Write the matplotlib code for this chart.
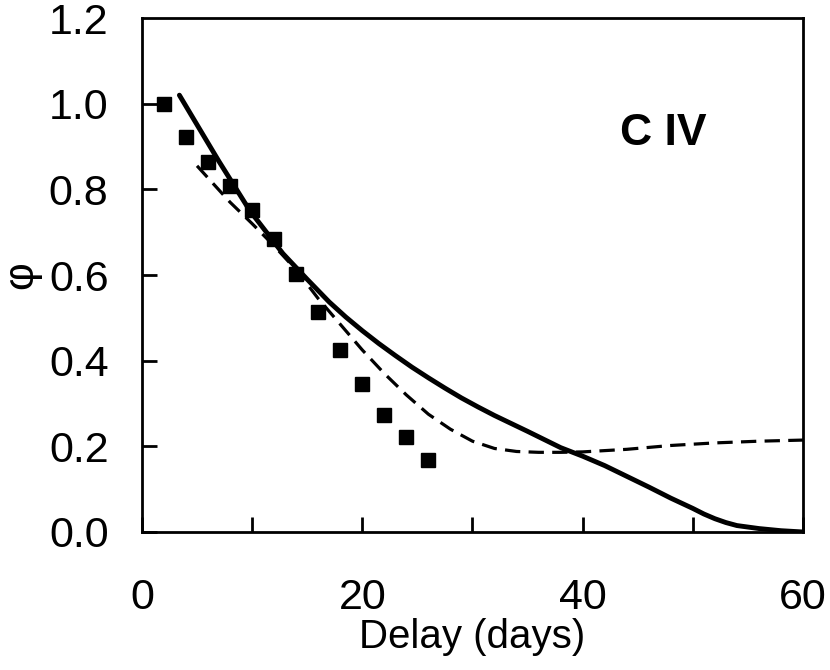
import numpy as np
import matplotlib
matplotlib.use("Agg")
import matplotlib.pyplot as plt
from matplotlib.ticker import MultipleLocator

plt.rcParams['font.family'] = ['Liberation Sans', 'DejaVu Sans']

# observed points
obs_delay = [2, 4, 6, 8, 10, 12, 14, 16, 18, 20, 22, 24, 26]
obs_phi = [1.0, 0.922, 0.864, 0.809, 0.751, 0.685, 0.603, 0.513, 0.425, 0.345, 0.273, 0.221, 0.168]

# model 1 (solid)
solid_delay = [3.4, 5, 7, 9.8, 12.8, 15, 17, 18.5, 20, 21.5, 23, 24.5, 26, 27.5, 29, 30.5, 32, 35, 38, 40,
               42, 44, 46, 48, 50, 51, 52, 53, 54, 56, 58, 60]
solid_phi = [1.02, 0.951, 0.865, 0.75, 0.65, 0.59, 0.537, 0.502, 0.47, 0.44, 0.412, 0.385, 0.36, 0.336,
             0.313, 0.292, 0.272, 0.235, 0.197, 0.177, 0.155, 0.13, 0.105, 0.079, 0.055, 0.042, 0.031,
             0.022, 0.015, 0.008, 0.003, 0.0]

# model 2 (dashed)
dash_delay = [5, 8, 10, 12, 14, 16, 18, 20, 22, 24, 26, 28, 30, 32, 34, 36, 38, 40, 44, 48, 52, 56, 60.6]
dash_phi = [0.855, 0.77, 0.72, 0.668, 0.612, 0.545, 0.485, 0.425, 0.37, 0.32, 0.275, 0.24, 0.212, 0.195,
            0.188, 0.186, 0.186, 0.187, 0.193, 0.202, 0.208, 0.212, 0.215]

fig = plt.figure(figsize=(8.3, 6.7), dpi=100)
ax = fig.add_axes([0.171, 0.206, 0.7965, 0.767])

ax.plot(solid_delay, solid_phi, color='black', lw=3.5, solid_capstyle='round',
        solid_joinstyle='round', zorder=3)
ax.plot(dash_delay, dash_phi, color='black', lw=2.3, dashes=(4.8, 2.6), clip_on=False, zorder=3)
ax.plot(obs_delay, obs_phi, 's', color='black', ms=10, zorder=4)

ax.set_xlim(0, 60)
ax.set_ylim(0, 1.2)
ax.xaxis.set_major_locator(MultipleLocator(20))
ax.xaxis.set_minor_locator(MultipleLocator(10))
ax.set_yticks([0.0, 0.2, 0.4, 0.6, 0.8, 1.0, 1.2])
ax.set_yticklabels(['0.0', '0.2', '0.4', '0.6', '0.8', '1.0', '1.2'])

ax.tick_params(axis='both', which='both', direction='in', length=11, width=2, labelsize=31)
ax.tick_params(axis='x', which='both', pad=33)
ax.tick_params(axis='y', pad=24)
ax.yaxis.get_major_ticks()[-1].tick1line.set_visible(False)

for s in ax.spines.values():
    s.set_linewidth(2)

ax.set_xlabel('Delay (days)', fontsize=29, labelpad=0)
# y label placed by hand so it sits at the very left edge like the original
fig.text(0.002, 0.59, 'φ', fontsize=31, rotation=90, ha='left', va='center')

ax.text(47.3, 0.93, 'C IV', fontsize=32, fontweight='bold', ha='center', va='center')

fig.savefig('out.png', dpi=100)
